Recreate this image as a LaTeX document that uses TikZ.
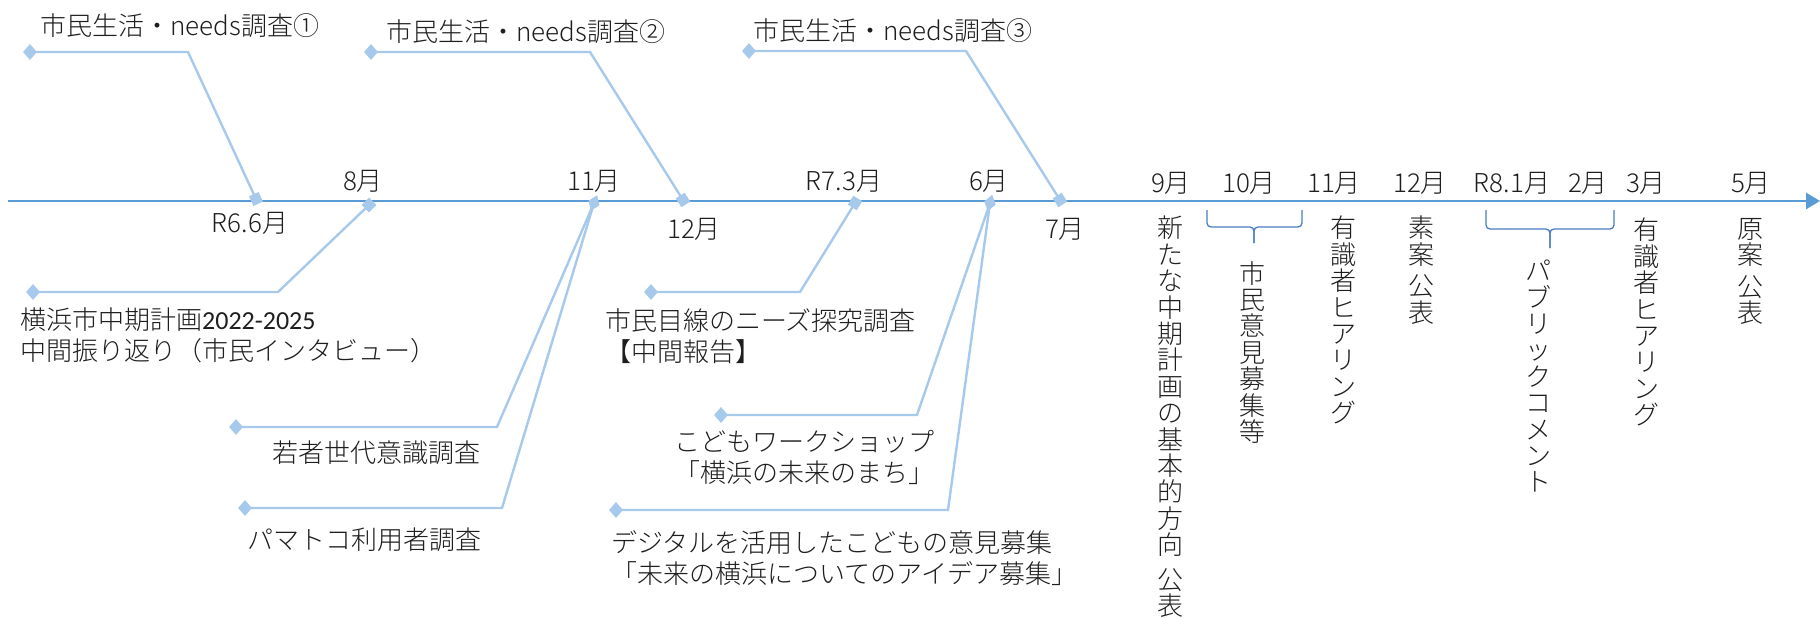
\documentclass[tikz,border=0pt]{standalone}
\usepackage{fontspec}
\setmainfont{Noto Sans CJK JP Light}
\newfontfamily\numfont{Carlito}
\usetikzlibrary{shapes.geometric,arrows.meta}
\definecolor{axisblue}{HTML}{5B9BD5}
\definecolor{calloutblue}{HTML}{A6C9EC}
\definecolor{bracketblue}{HTML}{4A7CC4}
\definecolor{txt}{HTML}{1E1E1E}
\begin{document}
\begin{tikzpicture}[x=1pt,y=-1pt,
  lbl/.style={font=\fontsize{26}{31}\selectfont, text=txt, inner sep=0pt},
  vlbl/.style={font=\fontsize{26}{26.4}\selectfont, text=txt, inner sep=0pt, align=center, anchor=north},
  dmark/.style={diamond, fill=calloutblue, minimum width=14pt, minimum height=16pt, inner sep=0pt},
  admark/.style={diamond, fill=calloutblue, minimum width=17pt, minimum height=12pt, inner sep=0pt},
  smark/.style={rectangle, fill=calloutblue, minimum size=10.5pt, inner sep=0pt},
  callout/.style={draw=calloutblue, line width=2.4pt},
  axisline/.style={draw=axisblue, line width=2.6pt, -{Triangle[length=14pt,width=16pt]}},
  bracket/.style={draw=bracketblue, line width=1.3pt, rounded corners=4pt},
]
\useasboundingbox (0,0) rectangle (1820,618);

% axis
\coordinate (axL) at (8,201);
\coordinate (axR) at (1820,201);
\draw[axisline] (axL) -- (axR);

% end points on axis
\coordinate (p1) at (256,199);
\coordinate (p2) at (369,205);
\coordinate (p3) at (594,203);
\coordinate (p4) at (683,200);
\coordinate (p5) at (855,203);
\coordinate (p6) at (990,203);
\coordinate (p7) at (1060,200);

% callout diamonds and elbows
\node[dmark] (d1) at (30,52) {};   \coordinate (e1) at (188,52);
\node[dmark] (d2) at (371,52) {};  \coordinate (e2) at (590,52);
\node[dmark] (d3) at (749,51) {};  \coordinate (e3) at (966,51);
\node[dmark] (d4) at (33,292) {};  \coordinate (e4) at (278,292);
\node[dmark] (d5) at (236,427) {}; \coordinate (e5) at (497,427);
\node[dmark] (d6) at (245,508) {}; \coordinate (e6) at (502,508);
\node[dmark] (d7) at (651,292) {}; \coordinate (e7) at (800,292);
\node[dmark] (d8) at (721,415) {}; \coordinate (e8) at (917,415);
\node[dmark] (d9) at (616,510) {}; \coordinate (e9) at (948,510);

\draw[callout] (d1.center) -- (e1) -- (p1);
\draw[callout] (d2.center) -- (e2) -- (p4);
\draw[callout] (d3.center) -- (e3) -- (p7);
\draw[callout] (d4.center) -- (e4) -- (p2);
\draw[callout] (d5.center) -- (e5) -- (p3);
\draw[callout] (d6.center) -- (e6) -- (p3);
\draw[callout] (d7.center) -- (e7) -- (p5);
\draw[callout] (d8.center) -- (e8) -- (p6);
\draw[callout] (d9.center) -- (e9) -- (p6);

% markers at the axis ends, turned along their lines
\node[smark, rotate=-65] (m1) at (p1) {};
\node[smark, rotate=44] (m2) at (p2) {};
\node[admark, rotate=68] (m3) at (p3) {};
\node[smark, rotate=-58] (m4) at (p4) {};
\node[smark, rotate=58] (m5) at (p5) {};
\node[admark, rotate=75] (m6) at (p6) {};
\node[smark, rotate=-58] (m7) at (p7) {};

% callout texts
\node[lbl, anchor=west] (t1) at (40,26) {市民生活・needs調査①};
\node[lbl, anchor=west] (t2) at (386,32) {市民生活・needs調査②};
\node[lbl, anchor=west] (t3) at (753,31) {市民生活・needs調査③};
\node[lbl, anchor=west, align=left] (t4) at (20,335) {横浜市中期計画{\numfont 2022-2025}\\中間振り返り（市民インタビュー）};
\node[lbl, anchor=west] (t5) at (272,453) {若者世代意識調査};
\node[lbl, anchor=west] (t6) at (247,540) {パマトコ利用者調査};
\node[lbl, anchor=west, align=left] (t7) at (605,336) {市民目線のニーズ探究調査\\【中間報告】};
\node[lbl, anchor=center, align=center] (t8) at (804,457) {こどもワークショップ\\「横浜の未来のまち」};
\node[lbl, anchor=west, align=left] (t9) at (611,558) {デジタルを活用したこどもの意見募集\\「未来の横浜についてのアイデア募集」};

% month labels
\node[lbl] (mo1) at (250,223) {R6.6月};
\node[lbl] (mo2) at (363,181) {8月};
\node[lbl] (mo3) at (594,181) {11月};
\node[lbl] (mo4) at (694,229) {12月};
\node[lbl] (mo5) at (844,181) {R7.3月};
\node[lbl] (mo6) at (989,181) {6月};
\node[lbl] (mo7) at (1065,229) {7月};
\node[lbl] (mo8) at (1171,183) {9月};
\node[lbl] (mo9) at (1249,183) {10月};
\node[lbl] (mo10) at (1334,183) {11月};
\node[lbl] (mo11) at (1420,183) {12月};
\node[lbl] (mo12) at (1512,183) {R8.1月};
\node[lbl] (mo13) at (1588,183) {2月};
\node[lbl] (mo14) at (1646,183) {3月};
\node[lbl] (mo15) at (1751,183) {5月};

% brackets
\coordinate (b1l) at (1207,210); \coordinate (b1c) at (1254,227);
\coordinate (b1r) at (1302,210); \coordinate (b1t) at (1254,243);
\draw[bracket] (b1l) |- (b1c) -- (b1t);
\draw[bracket] (b1r) |- (b1c) -- (b1t);
\coordinate (b2l) at (1486,210); \coordinate (b2c) at (1550,229);
\coordinate (b2r) at (1614,210); \coordinate (b2t) at (1550,248);
\draw[bracket] (b2l) |- (b2c) -- (b2t);
\draw[bracket] (b2r) |- (b2c) -- (b2t);

% vertical texts
\node[vlbl] (v1) at (1170,216) {新\\た\\な\\中\\期\\計\\画\\の\\基\\本\\的\\方\\向\\[8pt]公\\表};
\node[vlbl] (v2) at (1252,261) {市\\民\\意\\見\\募\\集\\等};
\node[vlbl] (v3) at (1343,216) {有\\識\\者\\ヒ\\ア\\リ\\ン\\グ};
\node[vlbl] (v4) at (1421,216) {素\\案\\[5pt]公\\表};
\node[vlbl] (v5) at (1538,260) {パ\\ブ\\リ\\ッ\\ク\\コ\\メ\\ン\\ト};
\node[vlbl] (v6) at (1646,218) {有\\識\\者\\ヒ\\ア\\リ\\ン\\グ};
\node[vlbl] (v7) at (1750,218) {原\\案\\[5pt]公\\表};
\end{tikzpicture}
\end{document}
